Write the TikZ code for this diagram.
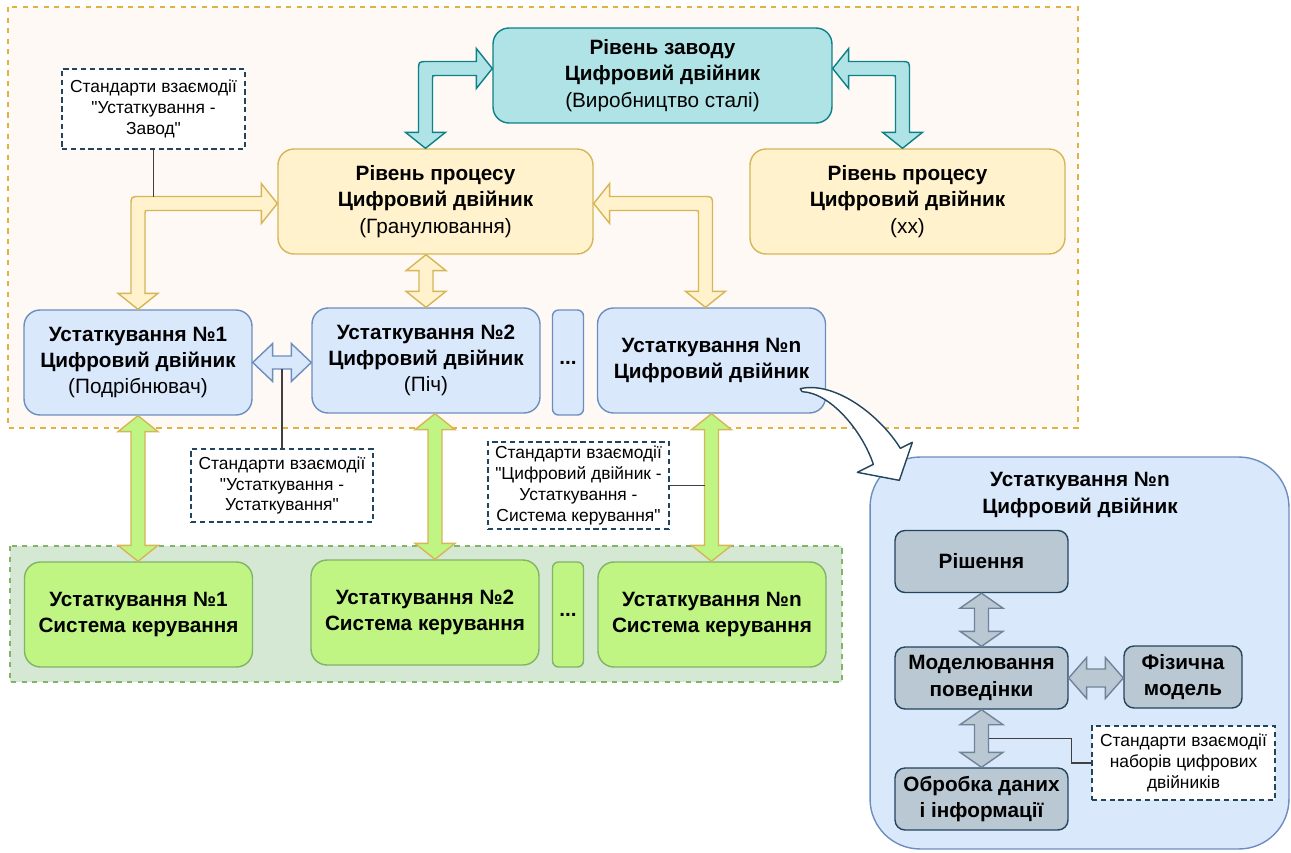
\documentclass[tikz,border=0pt]{standalone}
\usepackage{fontspec}
\setmainfont{Liberation Sans}
\newfontfamily\notefont{Liberation Sans}
\usepackage{xcolor}
\usepackage{tikz}
\usetikzlibrary{calc,positioning}
\definecolor{plantFill}{RGB}{176,227,230}
\definecolor{plantLine}{RGB}{14,128,136}
\definecolor{procFill}{RGB}{255,242,204}
\definecolor{procLine}{RGB}{214,182,86}
\definecolor{eqFill}{RGB}{218,232,252}
\definecolor{eqLine}{RGB}{108,142,191}
\definecolor{ctrlFill}{RGB}{192,245,132}
\definecolor{ctrlLine}{RGB}{130,179,102}
\definecolor{partFill}{RGB}{186,200,211}
\definecolor{partLine}{RGB}{35,68,93}
\definecolor{partArrow}{RGB}{112,132,152}
\definecolor{zoneOrange}{RGB}{224,178,64}
\definecolor{zoneOrangeFill}{RGB}{254,249,244}
\definecolor{zoneGreenFill}{RGB}{213,232,212}
\definecolor{noteLine}{RGB}{35,68,93}

\newcommand{\mainsize}{\fontsize{11.8}{15}\selectfont}
\newcommand{\notesize}{\fontsize{9.9}{11.9}\selectfont}

% block arrows: head length, head half width, shaft half width
\def\hl{16}\def\hw{20}\def\sw{7}
\newcommand{\vdouble}[3]{%
  \draw[#1] (#2) -- ++(\hw,\hl) -- ++(\sw-\hw,0) -- ($(#3)+(\sw,-\hl)$)
    -- ++(\hw-\sw,0) -- (#3) -- ++(-\hw,-\hl) -- ++(\hw-\sw,0)
    -- ($(#2)+(-\sw,\hl)$) -- ++(\sw-\hw,0) -- cycle;}
\newcommand{\hdouble}[3]{%
  \draw[#1] (#2) -- ++(\hl,-\hw) -- ++(0,\hw-\sw) -- ($(#3)+(-\hl,-\sw)$)
    -- ++(0,\sw-\hw) -- (#3) -- ++(-\hl,\hw) -- ++(0,\sw-\hw)
    -- ($(#2)+(\hl,\sw)$) -- ++(0,\hw-\sw) -- cycle;}
\newcommand{\elbow}[4]{%
  \draw[#1] (#2) -- ++({#4*(-\hl)},-\hw) -- ++(0,\hw-\sw)
    -- ($(#3 |- #2)+({#4*(9-\sw)},-\sw)$)
    .. controls ($(#3 |- #2)+({#4*(-\sw)},-\sw)$) .. ($(#3 |- #2)+({#4*(-\sw)},9-\sw)$)
    -- ($(#3)+({#4*(-\sw)},-\hl)$) -- ++({#4*(\sw-\hw)},0) -- (#3)
    -- ++({#4*\hw},-\hl) -- ++({#4*(\sw-\hw)},0)
    -- ($(#3 |- #2)+({#4*\sw},\sw+3)$)
    .. controls ($(#3 |- #2)+({#4*\sw},\sw)$) .. ($(#3 |- #2)+({#4*(\sw+3)},\sw)$)
    -- ($(#2)+({#4*(-\hl)},\sw)$) -- ++(0,\hw-\sw) -- cycle;}

\tikzset{
  twin/.style={draw, line width=0.8pt, rounded corners=0.32cm, align=center, font=\mainsize, inner sep=2pt},
  plantbox/.style={twin, fill=plantFill, draw=plantLine, minimum width=6.78cm, minimum height=1.9cm},
  procbox/.style={twin, fill=procFill, draw=procLine, minimum width=6.3cm, minimum height=2.1cm},
  eqbox/.style={twin, fill=eqFill, draw=eqLine, minimum width=4.56cm, minimum height=2.1cm},
  ctrlbox/.style={twin, fill=ctrlFill, draw=ctrlLine, minimum width=4.56cm, minimum height=2.1cm},
  dotbox/.style={twin, rounded corners=0.12cm, minimum width=0.62cm, minimum height=2.1cm, inner sep=0pt, font=\mainsize\bfseries},
  partbox/.style={twin, fill=partFill, draw=partLine, rounded corners=0.2cm, minimum width=3.46cm, minimum height=1.24cm, font=\mainsize\bfseries},
  note/.style={draw=noteLine, dash pattern=on 3pt off 2pt, fill=white, line width=0.8pt, align=center, font=\notefont\notesize, inner sep=1pt},
  zone/.style={line width=0.8pt, dash pattern=on 3pt off 3pt},
  plantarrow/.style={fill=plantFill, draw=plantLine, line width=0.8pt},
  procarrow/.style={fill=procFill, draw=procLine, line width=0.8pt},
  eqarrow/.style={fill=eqFill, draw=eqLine, line width=0.8pt},
  ctrlarrow/.style={fill=ctrlFill, draw=procLine, line width=0.8pt},
  partarrow/.style={fill=partFill, draw=partArrow, line width=0.8pt},
  link/.style={draw=black!75, line width=0.8pt},
  zoomarrow/.style={fill=white, draw=partLine, line width=0.8pt, line join=round},
}

\begin{document}
\begin{tikzpicture}[x=0.02cm, y=-0.02cm]
\useasboundingbox (0,0) rectangle (1291,852);

\draw[zone, draw=zoneOrange, fill=zoneOrangeFill] (8,7) rectangle (1078,428);
\draw[zone, draw=ctrlLine, fill=zoneGreenFill] (10,546) rectangle (842,682);

\node[plantbox] (plant) at (662.5,75.5) {\textbf{Рівень заводу}\\\textbf{Цифровий двійник}\\(Виробництво сталі)};
\node[procbox] (proc1) at (435.5,201.5) {\textbf{Рівень процесу}\\\textbf{Цифровий двійник}\\(Гранулювання)};
\node[procbox] (proc2) at (907.5,201.5) {\textbf{Рівень процесу}\\\textbf{Цифровий двійник}\\(xx)};

\node[eqbox] (eq1) at (138,362.5) {\textbf{Устаткування №1}\\\textbf{Цифровий двійник}\\(Подрібнювач)};
\node[eqbox] (eq2) at (426,360.5) {\textbf{Устаткування №2}\\\textbf{Цифровий двійник}\\(Піч)};
\node[dotbox, fill=eqFill, draw=eqLine] (eqdots) at (568,362.5) {...};
\node[eqbox] (eqn) at (711.5,360.5) {\textbf{Устаткування №n}\\\textbf{Цифровий двійник}};

\foreach \nm/\x/\y/\k in {ctrl1/138.5/614.5/1, ctrl2/425/612.5/2, ctrln/712/614.5/n}
{
    \node[ctrlbox, font=\mainsize\bfseries] (\nm) at (\x,\y) {Устаткування №\k\\Система керування};
}
\node[dotbox, fill=ctrlFill, draw=ctrlLine] (ctrldots) at (568,614.5) {...};

\node[draw=eqLine, fill=eqFill, line width=0.8pt, rounded corners=1cm, minimum width=8.38cm, minimum height=7.84cm] (dtn) at (1079.5,653) {};
\node[font=\mainsize\bfseries, align=center] (dtntitle) at (1080,495) {Устаткування №n\\Цифровий двійник};
\node[partbox] (decision) at (981.5,561.5) {Рішення};
\node[partbox] (behaviour) at (981.5,678) {Моделювання\\поведінки};
\node[partbox, minimum width=2.36cm] (physical) at (1183,677) {Фізична\\модель};
\node[partbox] (dataproc) at (981.5,799) {Обробка даних\\і інформації};

\node[note, minimum width=3.66cm, minimum height=1.6cm] (std1) at (153.5,109) {Стандарти взаємодії\\"Устаткування -\\Завод"};
\node[note, minimum width=3.64cm, minimum height=1.46cm] (std2) at (282,485.5) {Стандарти взаємодії\\"Устаткування -\\Устаткування"};
\node[note, minimum width=3.62cm, minimum height=1.74cm] (std3) at (578.5,485.5) {Стандарти взаємодії\\"Цифровий двійник -\\Устаткування -\\Система керування"};
\node[note, minimum width=3.66cm, minimum height=1.48cm] (std4) at (1183.5,763) {Стандарти взаємодії\\наборів цифрових\\двійників};

% plant level <-> process level
\coordinate (pa1) at ($(plant.west)+(0,-7)$);
\coordinate (pb1) at ($(proc1.north)+(-10,0)$);
\coordinate (pa2) at ($(plant.east)+(0,-7)$);
\coordinate (pb2) at ($(proc2.north)+(-5,0)$);
\elbow{plantarrow}{pa1}{pb1}{1}
\elbow{plantarrow}{pa2}{pb2}{-1}

% process level <-> equipment
\coordinate (qa1) at ($(proc1.west)+(0,2)$);
\coordinate (qa2) at ($(proc1.east)+(0,2)$);
\coordinate (qb2) at ($(eqn.north)+(-6,0)$);
\coordinate (qm) at (proc1.south -| eq2.north);
\elbow{procarrow}{qa1}{eq1.north}{1}
\elbow{procarrow}{qa2}{qb2}{-1}
\vdouble{procarrow}{qm}{eq2.north}

{\def\hl{20}\def\hw{19}\def\sw{6.5}
\coordinate (eb) at (eq2.west |- eq1.east);
\hdouble{eqarrow}{eq1.east}{eb}}

% equipment twins <-> control systems
\coordinate (g1b) at (eq1.south |- ctrl1.north);
\coordinate (g2t) at ($(eq2.south)+(9,0)$);
\coordinate (g2b) at (g2t |- ctrl2.north);
\coordinate (gnb) at (eqn.south |- ctrln.north);
\vdouble{ctrlarrow}{eq1.south}{g1b}
\vdouble{ctrlarrow}{g2t}{g2b}
\vdouble{ctrlarrow}{eqn.south}{gnb}

% inside the twin
{\def\hl{15}\def\hw{21.5}
\vdouble{partarrow}{decision.south}{behaviour.north}
\vdouble{partarrow}{behaviour.south}{dataproc.north}}
{\def\hl{18}\def\hw{20.5}\def\sw{9}
\coordinate (fb) at (physical.west |- behaviour.east);
\hdouble{partarrow}{behaviour.east}{fb}}

% notes
\draw[link] (std1.south) -- ($(std1.south |- qa1)+(0,-7)$);
\draw[link] (std2.north) -- ($(std2.north |- eq1.east)+(0,6.5)$);
\draw[link] (std3.east) -- ($(std3.east -| eqn.south)+(-7,0)$);
\draw[link] (std4.west) -- ++(-20,0) |- ($(behaviour.south)!0.5!(dataproc.north)+(7,0)$);

% zoom into equipment n
\coordinate (cs) at ($(eqn.south east)+(-26,-25)$);
\coordinate (ct) at ($(dtn.north west)+(30,24)$);
\draw[zoomarrow] (cs) .. controls ($(cs)+(35,-8)$) and ($(cs)+(80,27)$) .. ($(ct)+(1,-32)$)
    -- ($(ct)+(13,-38)$) -- (ct) -- ($(ct)+(-42,-8)$) -- ($(ct)+(-26,-16)$)
    .. controls ($(cs)+(62,42)$) and ($(cs)+(30,4)$) .. ($(cs)+(2,3)$) -- cycle;
\end{tikzpicture}
\end{document}
